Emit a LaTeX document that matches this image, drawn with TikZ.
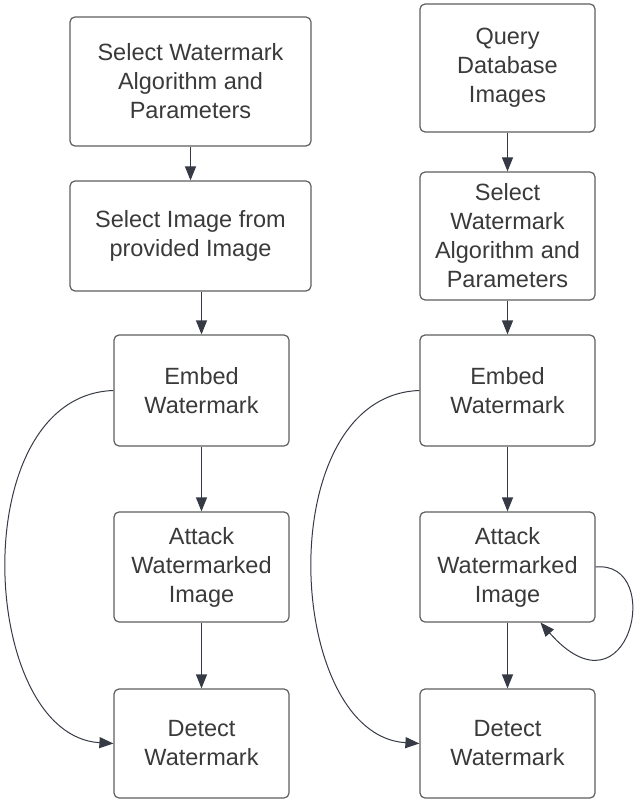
\documentclass[tikz,border=0pt]{standalone}
\usepackage{fontspec}
\setmainfont{Liberation Sans}
\usetikzlibrary{arrows.meta}
\definecolor{boxline}{HTML}{5E5E5E}
\definecolor{inkline}{HTML}{363A44}
\definecolor{txt}{HTML}{3A3A3A}
\begin{document}
\begin{tikzpicture}[x=1pt,y=-1pt,
  stepbox/.style={draw=boxline,line width=1.2pt,rounded corners=5pt,fill=white,
    align=center,text=txt,inner sep=0pt,
    font=\fontsize{23.5}{29}\selectfont},
  flow/.style={draw=inkline,line width=1.2pt,
    -{Triangle[length=14pt,width=11pt]}},
  loopline/.style={draw=inkline,line width=1pt,
    -{Triangle[length=14pt,width=11pt]}}]
\useasboundingbox (0,0) rectangle (635,799);

% left flow
\node[stepbox,minimum width=241pt,minimum height=129pt] (l1) at (190.5,81.5)
  {Select Watermark\\Algorithm and\\Parameters};
\node[stepbox,minimum width=241pt,minimum height=110pt] (l2) at (190.5,236)
  {Select Image from\\provided Image};
\node[stepbox,minimum width=175pt,minimum height=111pt] (l3) at (201.5,390.5)
  {Embed\\Watermark};
\node[stepbox,minimum width=175pt,minimum height=110pt] (l4) at (201.5,567)
  {Attack\\Watermarked\\Image};
\node[stepbox,minimum width=175pt,minimum height=109pt] (l5) at (201.5,743.5)
  {Detect\\Watermark};

% right flow
\node[stepbox,minimum width=175pt,minimum height=128pt] (r1) at (507.5,68)
  {Query\\Database\\Images};
\node[stepbox,minimum width=175pt,minimum height=128pt] (r2) at (507.5,236)
  {Select\\Watermark\\Algorithm and\\Parameters};
\node[stepbox,minimum width=175pt,minimum height=111pt] (r3) at (507.5,390.5)
  {Embed\\Watermark};
\node[stepbox,minimum width=175pt,minimum height=110pt] (r4) at (507.5,567)
  {Attack\\Watermarked\\Image};
\node[stepbox,minimum width=175pt,minimum height=109pt] (r5) at (507.5,743.5)
  {Detect\\Watermark};

% straight links
\draw[flow] (l1.south) -- (l2.north);
\draw[flow] (l2.south -| l3.north) -- (l3.north);
\draw[flow] (l3.south) -- (l4.north);
\draw[flow] (l4.south) -- (l5.north);
\draw[flow] (r1.south) -- (r2.north);
\draw[flow] (r2.south) -- (r3.north);
\draw[flow] (r3.south) -- (r4.north);
\draw[flow] (r4.south) -- (r5.north);

% bypass links from embedding straight to detection
\draw[loopline] (l3.west) .. controls +(-150,5) and +(-135,-8) .. (l5.west);
\draw[loopline] (r3.west) .. controls +(-150,5) and +(-135,-8) .. (r5.west);

% repeated attack loop
\coordinate (r4ret) at ([xshift=33pt]r4.south);
\draw[loopline] (r4.east) .. controls +(70,-7) and +(89,101) .. (r4ret);
\end{tikzpicture}
\end{document}
